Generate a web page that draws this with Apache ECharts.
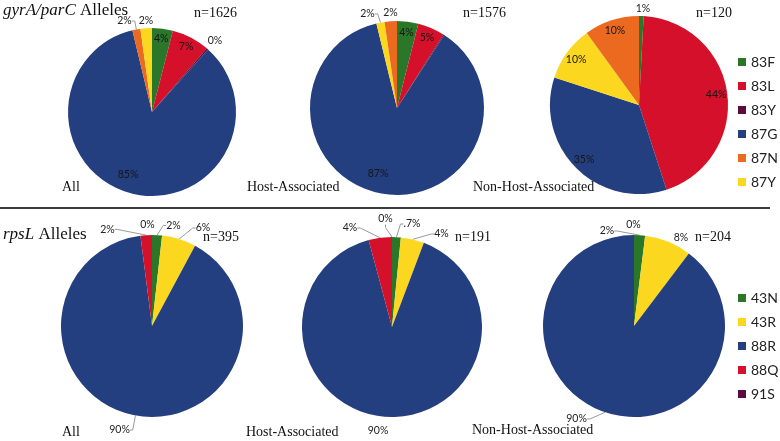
<!DOCTYPE html>
<html><head><meta charset="utf-8">
<script src="https://cdn.jsdelivr.net/npm/echarts@6/dist/echarts.min.js"></script>
<style>html,body{margin:0;padding:0;background:#fff}#c{width:780px;height:441px}</style>
</head><body><div id="c"></div>
<script>
// ---------- DATA ----------
const gyrLegend = ['83F','83L','83Y','87G','87N','87Y'];
const rpsLegend = ['43N','43R','88R','88Q','91S'];
const groups = ['All','Host-Associated','Non-Host-Associated'];

// gyrA/parC (slices clockwise from 12 o'clock)
const gyrAllCats  = ['83F','83L','83Y','87G','87N','87Y'];
const gyrAllVals  = [65,119,5,1376,25,36];
const gyrAllLbls  = ['4%','7%','0%','85%','2%','2%'];
const gyrHostCats = ['83F','83L','83Y','87G','87Y','87N'];
const gyrHostVals = [62,79,3,1372,24,36];
const gyrHostLbls = ['4%','5%','','87%','2%','2%'];
const gyrNonCats  = ['83F','83L','83Y','87G','87Y','87N'];
const gyrNonVals  = [1,53,0,42,12,12];
const gyrNonLbls  = ['1%','44%','','35%','10%','10%'];
const gyrN = ['n=1626','n=1576','n=120'];

// rpsL
const rpsCats     = ['43N','43R','88R','88Q','91S'];
const rpsAllVals  = [7,24,356,8,0];
const rpsAllLbls  = ['2%','6%','90%','2%','0%'];
const rpsHostVals = [3,8,172,8,0];
const rpsHostLbls = ['.7%','4%','90%','4%','0%'];
const rpsNonVals  = [4,17,183,0,0];
const rpsNonLbls  = ['2%','8%','90%','','0%'];
const rpsN = ['n=395','n=191','n=204'];

// ---------- STYLE / LAYOUT ----------
const colors = {
  '83F':'#2a772a','83L':'#d5102b','83Y':'#5a0c3e','87G':'#243f7f','87N':'#ec6a1f','87Y':'#fbd71f',
  '43N':'#2a772a','43R':'#fbd71f','88R':'#243f7f','88Q':'#d5102b','91S':'#5a0c3e'
};
const serif = "'Liberation Serif','DejaVu Serif',serif";
const sans = "Lato,'Open Sans',sans-serif";

// label placement (text centres) and whether a leader line is drawn
const pies = [
  {cats:gyrAllCats,  vals:gyrAllVals,  lbls:gyrAllLbls,  inside:[1,1,0,1,0,0], c:[152,112], r:84,
   place:{2:[215,41],4:[124.5,21],5:[146,21]}, lines:{4:1}, iplace:{3:[128,175]}},
  {cats:gyrHostCats, vals:gyrHostVals, lbls:gyrHostLbls, inside:[1,1,0,1,0,0], c:[397,108], r:87,
   place:{4:[367.5,14],5:[390.5,13]}, lines:{4:1}, iplace:{3:[378,174]}},
  {cats:gyrNonCats,  vals:gyrNonVals,  lbls:gyrNonLbls,  inside:[0,1,0,1,1,1], c:[639,105], r:89,
   place:{0:[643,9]}, lines:{}, iplace:{}},
  {cats:rpsCats, vals:rpsAllVals,  lbls:rpsAllLbls,  inside:[0,0,0,0,0], c:[152,326], r:91,
   place:{0:[173.5,225.5],1:[203,228],2:[119.5,430],3:[107.5,229.5],4:[147.5,225]}, lines:{0:1,1:1,2:1,3:1}, iplace:{}},
  {cats:rpsCats, vals:rpsHostVals, lbls:rpsHostLbls, inside:[0,0,0,0,0], c:[392,327], r:90,
   place:{0:[412,224],1:[441.5,234],2:[378,431],3:[350,228],4:[385.5,219]}, lines:{0:1,1:1,3:1,4:1}, iplace:{}},
  {cats:rpsCats, vals:rpsNonVals,  lbls:rpsNonLbls,  inside:[0,0,0,0,0], c:[634,326], r:91,
   place:{0:[607,231],1:[681,238],2:[576.5,419],4:[633.5,225]}, lines:{0:1,2:1}, iplace:{}}
];

function layoutFrom(table){
  return function(params){
    const p = table[params.dataIndex];
    if (!p) return {};
    return {x:p[0], y:p[1], align:'center', verticalAlign:'middle'};
  };
}

const series = [];
pies.forEach(p => {
  series.push({
    type:'pie', center:p.c, radius:p.r, startAngle:90, clockwise:true,
    silent:true, avoidLabelOverlap:false, emphasis:{disabled:true},
    itemStyle:{borderWidth:0},
    label:{position:'outside', fontFamily:sans, fontSize:10.5, color:'#222'},
    labelLine:{show:true, length:4, length2:3, minTurnAngle:90, lineStyle:{color:'#9a9a9a', width:1}},
    labelLayout: layoutFrom(p.place),
    data: p.cats.map((n,i)=>({
      name:n, value:p.vals[i], itemStyle:{color:colors[n]},
      label:{show: !p.inside[i] && p.lbls[i] !== '', formatter: p.lbls[i] || ' '},
      labelLine:{show: !p.inside[i] && p.lbls[i] !== '' && !!p.lines[i]}
    }))
  });
  series.push({
    type:'pie', center:p.c, radius:[p.r*0.68, p.r], startAngle:90, clockwise:true,
    silent:true, emphasis:{disabled:true}, z:3,
    itemStyle:{color:'rgba(0,0,0,0)', borderWidth:0},
    label:{position:'inside', fontFamily:sans, fontSize:10.5, color:'#161616'},
    labelLine:{show:false},
    labelLayout: layoutFrom(p.iplace),
    data: p.cats.map((n,i)=>({
      name:n+'\u200b', value:p.vals[i],
      label:{show: !!p.inside[i], formatter: p.lbls[i] || ' '}
    }))
  });
});

const titles = [];
function txt(text, left, top, size, rich){
  titles.push({text, left, top, padding:0,
    textStyle:{fontFamily:serif, fontSize:size, fontWeight:'normal', color:'#111', rich:rich||{}}});
}
const italicRich = {i:{fontFamily:serif, fontSize:17, fontStyle:'italic', color:'#111'},
                    n:{fontFamily:serif, fontSize:17, color:'#111'}};
txt('{i|gyrA/parC}{n| Alleles}', 3, 2, 17, italicRich);
txt('{i|rpsL}{n| Alleles}', 3, 226, 17, italicRich);
const nTopPos = [[194,6],[463,6],[696,6]];
const nBotPos = [[203,230],[455,230],[695,230]];
gyrN.forEach((t,i)=>txt(t, nTopPos[i][0], nTopPos[i][1], 14));
rpsN.forEach((t,i)=>txt(t, nBotPos[i][0], nBotPos[i][1], 14));
const gTopPos = [[62,180],[247,180],[473,180]];
const gBotPos = [[62,425],[246,425],[472,423]];
groups.forEach((t,i)=>txt(t, gTopPos[i][0], gTopPos[i][1], 14));
groups.forEach((t,i)=>txt(t, gBotPos[i][0], gBotPos[i][1], 14));

const legendBase = {orient:'vertical', icon:'rect', itemWidth:8, itemHeight:8, itemGap:10,
  padding:0, selectedMode:false,
  textStyle:{fontFamily:sans, fontSize:14, lineHeight:14, color:'#222'}};

const option = {
  animation:false,
  title: titles,
  legend: [
    Object.assign({}, legendBase, {data:gyrLegend, left:738, top:55}),
    Object.assign({}, legendBase, {data:rpsLegend, left:738, top:291})
  ],
  graphic: [{type:'line', shape:{x1:0, y1:208, x2:770, y2:208}, style:{stroke:'#3c3c3c', lineWidth:2}}],
  series
};
const chart = echarts.init(document.getElementById('c'), null, {renderer:'canvas'});
chart.setOption(option);
</script></body></html>
